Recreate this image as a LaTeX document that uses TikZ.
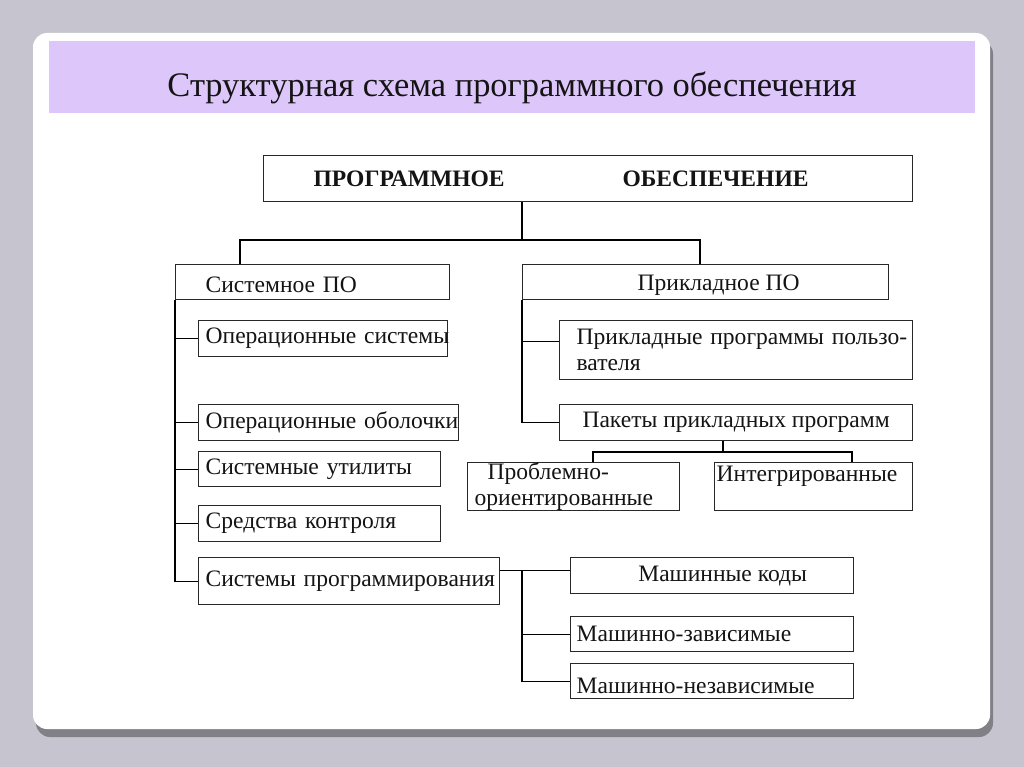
\documentclass[tikz,border=0pt]{standalone}
\usepackage{fontspec}
\setmainfont{Liberation Serif}
\definecolor{bgcol}{RGB}{198,196,206}
\definecolor{shadowcol}{RGB}{128,128,134}
\definecolor{titlecol}{RGB}{221,199,250}
\definecolor{linecol}{RGB}{40,40,40}
\definecolor{txtcol}{RGB}{20,20,20}
\begin{document}
\begin{tikzpicture}[x=0.02cm,y=-0.02cm,
  box/.style={draw=linecol, line width=0.75pt, fill=white, anchor=north west,
    inner ysep=0pt, text=txtcol, font=\fontsize{13.4}{14.4}\selectfont},
  lbox/.style={box, align=left},
  cbox/.style={box, inner xsep=0pt, align=center},
  conn/.style={draw=black, line width=0.7pt}]
\useasboundingbox (0,0) rectangle (1024,767);
\fill[bgcol] (0,0) rectangle (1024,767);
\fill[shadowcol, rounded corners=8pt] (36,40) rectangle (993,737);
\fill[white, rounded corners=8pt] (33,33) rectangle (990,729);
\fill[titlecol] (49,41) rectangle (975,113);
\node[font=\fontsize{19.6}{23}\selectfont, text=txtcol] (title) at (512,88) {Структурная схема программного обеспечения};

% boxes
\node[lbox, font=\fontsize{13.4}{14.4}\selectfont\bfseries, inner xsep=1cm, text width=10.98cm, minimum height=0.92cm] (main) at (263,155) {ПРОГРАММНОЕ\hspace{2.36cm}ОБЕСПЕЧЕНИЕ};
\node[lbox, inner xsep=0.6cm, text width=4.28cm, minimum height=0.7cm] (sys) at (175,264) {\rule{0pt}{2.0ex}Системное ПО};
\node[cbox, minimum width=7.32cm, minimum height=0.7cm] (app) at (522,264) {\rule{0pt}{2.0ex}\hspace*{0.52cm}Прикладное ПО};
\node[lbox, inner xsep=0.14cm, text width=4.70cm, minimum height=0.72cm] (os) at (198,320) {\mbox{Операционные системы}};
\node[lbox, inner xsep=0.14cm, text width=4.92cm, minimum height=0.72cm] (shell) at (198,404) {\mbox{Операционные оболочки}};
\node[lbox, inner xsep=0.14cm, text width=4.56cm, minimum height=0.70cm] (util) at (198,451) {\mbox{Системные утилиты}};
\node[lbox, inner xsep=0.14cm, text width=4.56cm, minimum height=0.72cm] (ctrl) at (198,505) {\mbox{Средства контроля}};
\node[lbox, inner xsep=0.14cm, text width=5.74cm, minimum height=0.94cm] (prog) at (198,557) {\mbox{Системы программирования}};
\node[lbox, inner xsep=0.34cm, text width=6.38cm, minimum height=1.18cm, font=\fontsize{13.4}{14.6}\selectfont] (user) at (559,320) {\mbox{Прикладные программы пользо-}\\вателя};
\node[cbox, minimum width=7.06cm, minimum height=0.72cm] (pack) at (559,404) {Пакеты прикладных программ};
\node[lbox, inner xsep=0.14cm, text width=3.96cm, minimum height=0.96cm, font=\fontsize{13.4}{14.6}\selectfont] (prob) at (467,462) {\hspace*{0.26cm}Проблемно-\\ориентированные};
\node[lbox, inner xsep=0.04cm, text width=3.88cm, minimum height=0.96cm, font=\fontsize{13.4}{14.6}\selectfont] (integ) at (714,462) {Интегрированные\\\mbox{}};
\node[cbox, minimum width=5.66cm, minimum height=0.72cm] (mcode) at (570,557) {\hspace*{0.42cm}Машинные коды};
\node[lbox, inner xsep=0.12cm, text width=5.42cm, minimum height=0.70cm] (mdep) at (570,616) {Машинно-зависимые};
\node[lbox, inner xsep=0.12cm, text width=5.42cm, minimum height=0.70cm] (mind) at (570,663) {\rule{0pt}{2.3ex}Машинно-независимые};

% junction points
\coordinate (jL) at (240,240);
\coordinate (jR) at (700,240);
\coordinate (jPL) at (593,452);
\coordinate (jP) at (723,452);
\coordinate (jPR) at (852,452);
\coordinate (jM) at (522,570);
\coordinate (uw) at ([yshift=4.8pt]user.west);
\coordinate (mw) at ([yshift=3pt]mcode.west);

% connectors
\draw[conn] (main.south -| app.west) -- (jL -| app.west);
\draw[conn] (sys.north -| jL) -- (jL) -- (jR) -- (app.north -| jR);
\draw[conn] (sys.south west) |- (prog.west);
\foreach \n in {os,shell,util,ctrl} \draw[conn] (sys.south west |- \n.west) -- (\n.west);
\draw[conn] (app.south west) |- (pack.west);
\draw[conn] (app.south west |- uw) -- (uw);
\draw[conn] (pack.south -| jP) -- (jP);
\draw[conn] (prob.north -| jPL) -- (jPL) -- (jPR) -- (integ.north -| jPR);
\draw[conn] (mw -| prog.east) -- (mw);
\draw[conn] (mw -| jM) |- (mind.west);
\draw[conn] (mdep.west -| jM) -- (mdep.west);
\end{tikzpicture}
\end{document}
